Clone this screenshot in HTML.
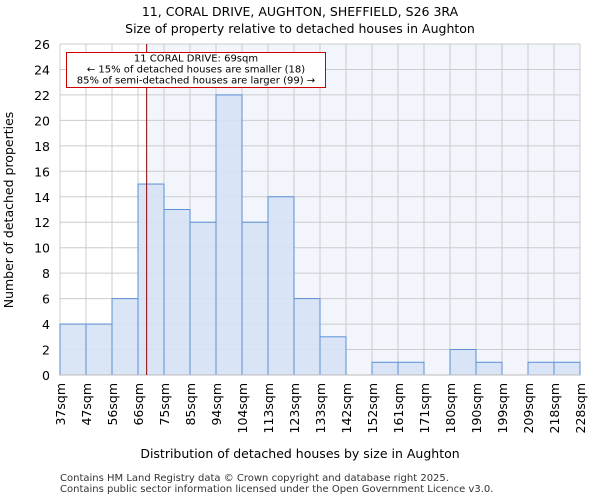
<!DOCTYPE html>
<html><head><meta charset="utf-8"><style>
body{margin:0;background:#fff;font-family:"DejaVu Sans","Liberation Sans",sans-serif;}
svg text{font-family:"DejaVu Sans","Liberation Sans",sans-serif;}
</style></head><body>
<svg id="chart" width="600" height="500">
<text x="300" y="16" text-anchor="middle" font-size="12.5">11, CORAL DRIVE, AUGHTON, SHEFFIELD, S26 3RA</text>
<text x="300" y="33" text-anchor="middle" font-size="12.5">Size of property relative to detached houses in Aughton</text>
<g id="plot"></g>
<text x="300" y="458" text-anchor="middle" font-size="12.5">Distribution of detached houses by size in Aughton</text>
<text transform="translate(13,210) rotate(-90)" text-anchor="middle" font-size="12.5">Number of detached properties</text>
<text x="60" y="481" font-size="10" fill="#333">Contains HM Land Registry data © Crown copyright and database right 2025.</text>
<text x="60" y="492" font-size="10" fill="#333">Contains public sector information licensed under the Open Government Licence v3.0.</text>
</svg>
<script>
const binLabels=["37sqm","47sqm","56sqm","66sqm","75sqm","85sqm","94sqm","104sqm","113sqm","123sqm","133sqm","142sqm","152sqm","161sqm","171sqm","180sqm","190sqm","199sqm","209sqm","218sqm","228sqm"];
const binEdges=[37,47,56,66,75,85,94,104,113,123,133,142,152,161,171,180,190,199,209,218,228];
const counts=[4,4,6,15,13,12,22,12,14,6,3,0,1,1,0,2,1,0,1,1];
const yTicks=[0,2,4,6,8,10,12,14,16,18,20,22,24,26];
const markerValue=69;
const X0=60,X1=580,Y0=375,Y1=44,YMAX=26;
const n=counts.length,bw=(X1-X0)/n;
const xi=i=>X0+i*bw;
const xv=v=>{for(let i=0;i<binEdges.length-1;i++){if(v<=binEdges[i+1])return xi(i)+bw*(v-binEdges[i])/(binEdges[i+1]-binEdges[i]);}return X1;};
const y=v=>Y0-(Y0-Y1)*v/YMAX;
const g=document.getElementById('plot');
const NS="http://www.w3.org/2000/svg";
function mk(t,a){const e=document.createElementNS(NS,t);for(const k in a)e.setAttribute(k,a[k]);g.appendChild(e);return e;}
const mx=xv(markerValue);
let r=mk('rect',{x:mx,y:Y1,width:X1-mx,height:Y0-Y1,fill:'#f2f5fc'});


yTicks.forEach(t=>{
 let l=mk('line',{x1:X0,x2:X1,y1:y(t),y2:y(t),stroke:'#ccc'});
 
 
 let tx=mk('text',{x:X0-10,y:y(t)+5,'text-anchor':'end','font-size':12.5});
 tx.textContent=t;
 
 
});
binLabels.forEach((lab,i)=>{
 let l=mk('line',{x1:xi(i),x2:xi(i),y1:Y1,y2:Y0,stroke:'#ccc'});
 
 
 let tx=mk('text',{transform:`translate(${xi(i)+5},${Y0+8}) rotate(-90)`,'text-anchor':'end','font-size':12.5});
 tx.textContent=lab;
 
 
});
counts.forEach((c,i)=>{
 if(c<=0)return;
 let b=mk('rect',{x:xi(i),y:y(c),width:bw,height:Y0-y(c),fill:'#d6e2f5',stroke:'#5b8fd6','stroke-width':1,'fill-opacity':0.9});
 
 
});
let ax=mk('line',{x1:X0,x2:X1,y1:Y0,y2:Y0,stroke:'#bbb'});


let ml=mk('line',{x1:mx,x2:mx,y1:Y1,y2:Y0,stroke:'#800','stroke-width':1});


let box=mk('rect',{x:66.5,y:52.5,width:259,height:35,fill:'#fff',stroke:'#c00'});


["11 CORAL DRIVE: 69sqm","← 15% of detached houses are smaller (18)","85% of semi-detached houses are larger (99) →"].forEach((s,i)=>{
 let t=mk('text',{x:196,y:61.5+i*11,'text-anchor':'middle','font-size':10});
 t.textContent=s;
 
 
});
</script>
</body></html>
